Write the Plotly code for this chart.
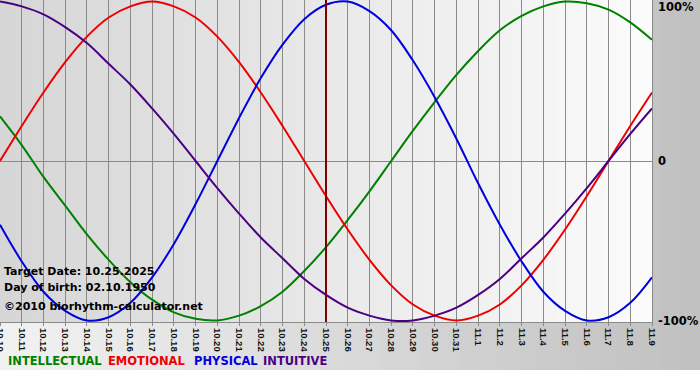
import plotly.graph_objects as go

# ---- data ----
DATES = ["10.10", "10.11", "10.12", "10.13", "10.14", "10.15", "10.16", "10.17",
         "10.18", "10.19", "10.20", "10.21", "10.22", "10.23", "10.24", "10.25",
         "10.26", "10.27", "10.28", "10.29", "10.30", "10.31", "11.1", "11.2",
         "11.3", "11.4", "11.5", "11.6", "11.7", "11.8", "11.9"]

INTELLECTUAL = [0.28, 0.10, -0.10, -0.28, -0.46, -0.62, -0.76, -0.87, -0.95, -0.99,
                -1.00, -0.97, -0.91, -0.82, -0.69, -0.54, -0.37, -0.19, 0.00, 0.19,
                0.37, 0.54, 0.69, 0.82, 0.91, 0.97, 1.00, 0.99, 0.95, 0.87, 0.76]
EMOTIONAL = [0.00, 0.22, 0.43, 0.62, 0.78, 0.90, 0.97, 1.00, 0.97, 0.90,
             0.78, 0.62, 0.43, 0.22, 0.00, -0.22, -0.43, -0.62, -0.78, -0.90,
             -0.97, -1.00, -0.97, -0.90, -0.78, -0.62, -0.43, -0.22, 0.00, 0.22, 0.43]
PHYSICAL = [-0.40, -0.63, -0.82, -0.94, -1.00, -0.98, -0.89, -0.73, -0.52, -0.27,
            0.00, 0.27, 0.52, 0.73, 0.89, 0.98, 1.00, 0.94, 0.82, 0.63,
            0.40, 0.14, -0.14, -0.40, -0.63, -0.82, -0.94, -1.00, -0.98, -0.89, -0.73]
INTUITIVE = [1.00, 0.97, 0.92, 0.84, 0.74, 0.61, 0.48, 0.33, 0.17, 0.00,
             -0.17, -0.33, -0.48, -0.61, -0.74, -0.84, -0.92, -0.97, -1.00, -1.00,
             -0.97, -0.92, -0.84, -0.74, -0.61, -0.48, -0.33, -0.17, 0.00, 0.17, 0.33]

SERIES_NAMES = ["INTELLECTUAL", "EMOTIONAL", "PHYSICAL", "INTUITIVE"]
TARGET_DATE = "10.25"
INFO_LINES = ["Target Date: 10.25.2025", "Day of birth: 02.10.1950",
              "\u00a92010 biorhythm-calculator.net"]
Y_LABELS = ["100%", "0", "-100%"]

# ---- styling ----
COLORS = ["#008000", "#ee0000", "#0000dd", "#4b0082"]
FONT = "DejaVu Sans"
TICK_FONT = "Liberation Sans"
W, H = 700, 380
PL, PR, PT, PB = 0, 652, 0, 322  # plot area in px


def px_x(px):
    return (px - PL) / (PR - PL)


def px_y(py):
    return (PB - py) / (PB - PT)


fig = go.Figure()

for name, vals, col in zip(SERIES_NAMES, [INTELLECTUAL, EMOTIONAL, PHYSICAL, INTUITIVE], COLORS):
    fig.add_trace(go.Scatter(x=DATES, y=vals, mode="lines", name=name,
                             line=dict(color=col, width=2, shape="spline", smoothing=1.0),
                             hoverinfo="skip"))

# target date marker
fig.add_trace(go.Scatter(x=[TARGET_DATE, TARGET_DATE], y=[-1.1, 1.1], mode="lines",
                         line=dict(color="#800000", width=2), hoverinfo="skip",
                         showlegend=False))

shapes = []
# outer panel gradient (light left -> gray right), down to y=370
n = 35
for k in range(n):
    x0 = k * W / n
    x1 = (k + 1) * W / n + 0.6
    c = int(round(242 - (242 - 192) * (k + 0.5) / n))
    shapes.append(dict(type="rect", xref="paper", yref="paper",
                       x0=px_x(x0), x1=px_x(x1), y0=px_y(370), y1=px_y(-1),
                       fillcolor=f"rgb({c},{c},{c})", line=dict(width=0), layer="below"))
# plot area gradient (gray left -> white right)
n = 40
for k in range(n):
    x0 = k * (PR - PL) / n
    x1 = min((k + 1) * (PR - PL) / n + 0.6, PR)
    c = int(round(214 + (251 - 214) * (k + 0.5) / n))
    shapes.append(dict(type="rect", xref="paper", yref="paper",
                       x0=px_x(x0), x1=px_x(x1), y0=0, y1=1,
                       fillcolor=f"rgb({c},{c},{c})", line=dict(width=0), layer="below"))

annotations = []
for txt, py in zip(INFO_LINES, [271, 287, 306]):
    annotations.append(dict(text=f"<b>{txt}</b>", xref="paper", yref="paper",
                            x=px_x(2), y=px_y(py), xanchor="left", yanchor="middle",
                            showarrow=False, font=dict(family=FONT, size=11, color="black")))
for txt, py in zip(Y_LABELS, [7, 161, 321]):
    annotations.append(dict(text=f"<b>{txt}</b>", xref="paper", yref="paper",
                            x=px_x(656), y=px_y(py), xanchor="left", yanchor="middle",
                            showarrow=False, font=dict(family=FONT, size=11.5, color="black")))
for txt, col, px in zip(SERIES_NAMES, COLORS, [6, 106, 192, 261]):
    annotations.append(dict(text=f"<b>{txt}</b>", xref="paper", yref="paper",
                            x=px_x(px), y=px_y(361), xanchor="left", yanchor="middle",
                            showarrow=False, font=dict(family=FONT, size=11.5, color=col)))

fig.update_layout(
    width=W, height=H,
    margin=dict(l=PL, r=W - PR, t=PT, b=H - PB, pad=0, autoexpand=False),
    paper_bgcolor="white", plot_bgcolor="rgba(0,0,0,0)",
    showlegend=False,
    shapes=shapes, annotations=annotations,
    xaxis=dict(type="category", categoryorder="array", categoryarray=DATES,
               range=[0, len(DATES) - 1], showgrid=True, gridcolor="#8a8a8a", gridwidth=1,
               ticks="outside", ticklen=3, tickcolor="#8a8a8a", tickwidth=1,
               tickangle=90,
               tickfont=dict(family=TICK_FONT, size=9.5, color="#111111", weight="bold"),
               showline=True, linecolor="#8a8a8a", linewidth=1, mirror=True,
               zeroline=False, fixedrange=True, automargin=False),
    yaxis=dict(range=[-1.01, 1.01], showgrid=False, showticklabels=False, ticks="",
               zeroline=True, zerolinecolor="#8a8a8a", zerolinewidth=1,
               showline=True, linecolor="#8a8a8a", linewidth=1, mirror=True,
               fixedrange=True, automargin=False),
)

fig.write_html("out.html", config={"displayModeBar": False})

# remove the browser's default page margin so the chart sits at the window's corner
with open("out.html", "r", encoding="utf-8") as f:
    html = f.read()
html = html.replace("<head>", "<head><style>html,body{margin:0;padding:0;overflow:hidden;}</style>", 1)
with open("out.html", "w", encoding="utf-8") as f:
    f.write(html)
